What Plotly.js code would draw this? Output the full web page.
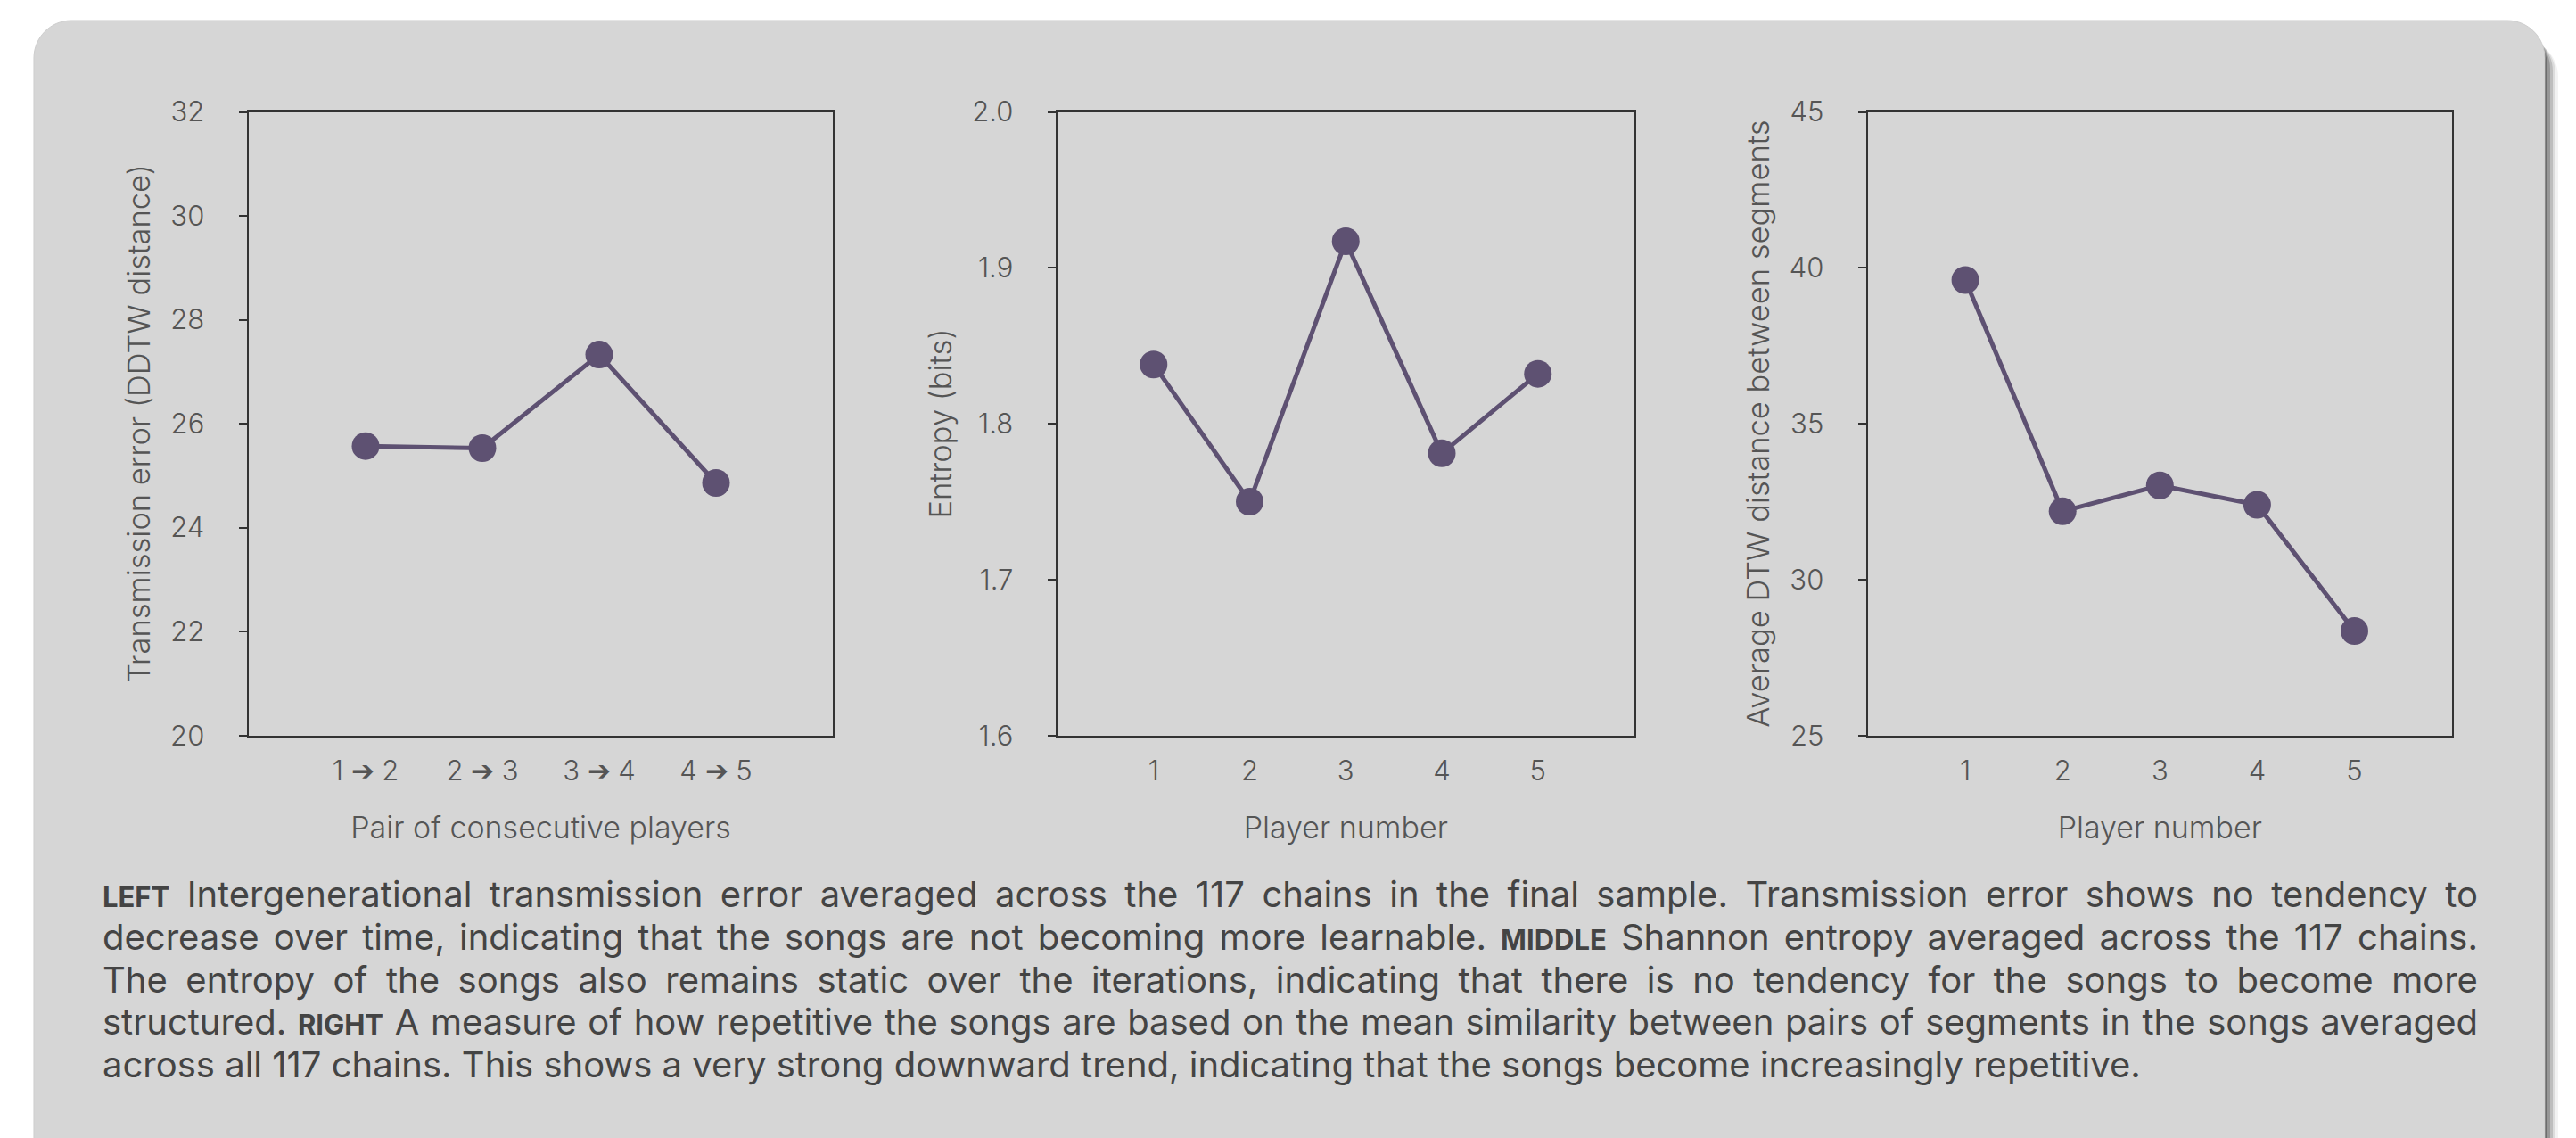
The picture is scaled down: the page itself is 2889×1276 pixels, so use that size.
<!DOCTYPE html>
<html>
<head>
<meta charset="utf-8">
<script src="https://cdn.plot.ly/plotly-3.0.1.min.js"></script>
<style>
html,body{margin:0;padding:0;background:#ffffff;}
#chart{width:2889px;height:1276px;}
</style>
</head>
<body>
<div id="chart"></div>
<script>
// ---- data ----
const pairLabels = ['1 ➔ 2', '2 ➔ 3', '3 ➔ 4', '4 ➔ 5'];
const transmissionError = [25.57, 25.53, 27.33, 24.86];

const players = [1, 2, 3, 4, 5];
const entropyBits = [1.838, 1.750, 1.917, 1.781, 1.832];
const dtwDistance = [39.61, 32.19, 33.02, 32.40, 28.35];

const yTitles = ['Transmission error (DDTW distance)', 'Entropy (bits)', 'Average DTW distance between segments'];
const xTitles = ['Pair of consecutive players', 'Player number', 'Player number'];

const captionLines = [
  '<b><span style="font-size:31px">LEFT</span></b> Intergenerational transmission error averaged across the 117 chains in the final sample. Transmission error shows no tendency to',
  'decrease over time, indicating that the songs are not becoming more learnable. <b><span style="font-size:31px">MIDDLE</span></b> Shannon entropy averaged across the 117 chains.',
  'The entropy of the songs also remains static over the iterations, indicating that there is no tendency for the songs to become more',
  'structured. <b><span style="font-size:31px">RIGHT</span></b> A measure of how repetitive the songs are based on the mean similarity between pairs of segments in the songs averaged',
  'across all 117 chains. This shows a very strong downward trend, indicating that the songs become increasingly repetitive.'
];

// ---- style ----
const W = 2889, H = 1276;
const FONT = 'Inter, "Liberation Sans", Arial, sans-serif';
const purple = '#5e5172';
const frame = '#333333';
const grey = '#555555';

function rr(x0, y0, x1, y1, r) {
  const X = v => (v / W).toFixed(6), Y = v => (1 - v / H).toFixed(6);
  const c = 0.5523 * r;
  return `M${X(x0 + r)},${Y(y0)} L${X(x1 - r)},${Y(y0)} ` +
    `C${X(x1 - r + c)},${Y(y0)} ${X(x1)},${Y(y0 + r - c)} ${X(x1)},${Y(y0 + r)} ` +
    `L${X(x1)},${Y(y1 - r)} ` +
    `C${X(x1)},${Y(y1 - r + c)} ${X(x1 - r + c)},${Y(y1)} ${X(x1 - r)},${Y(y1)} ` +
    `L${X(x0 + r)},${Y(y1)} ` +
    `C${X(x0 + r - c)},${Y(y1)} ${X(x0)},${Y(y1 - r + c)} ${X(x0)},${Y(y1 - r)} ` +
    `L${X(x0)},${Y(y0 + r)} ` +
    `C${X(x0)},${Y(y0 + r - c)} ${X(x0 + r - c)},${Y(y0)} ${X(x0 + r)},${Y(y0)} Z`;
}

const shapes = [];
const shadowSteps = [[17, 'rgba(0,0,0,0.05)'], [14, 'rgba(0,0,0,0.09)'], [11, 'rgba(0,0,0,0.14)'], [8, 'rgba(0,0,0,0.2)'], [5, 'rgba(0,0,0,0.28)'], [3, 'rgba(0,0,0,0.3)']];
shadowSteps.forEach(([o, col]) => {
  shapes.push({type: 'path', xref: 'paper', yref: 'paper', layer: 'below',
    path: rr(38 + o - 2, 23 + o + 4, 2854 + o - 2, 1320 + o, 42), fillcolor: col, line: {width: 0}});
});
shapes.push({type: 'path', xref: 'paper', yref: 'paper', layer: 'below',
  path: rr(38, 23, 2854, 1320, 42), fillcolor: '#d6d6d6', line: {color: '#cdcdcd', width: 1}});

const yDom = [1 - 824.7 / H, 1 - 125.5 / H];
const xDoms = [[279 / W, 934 / W], [1186 / W, 1832.5 / W], [2095 / W, 2749.6 / W]];

function xAxis(i, extra) {
  return Object.assign({
    domain: xDoms[i], anchor: i === 0 ? 'y' : 'y' + (i + 1),
    showline: true, mirror: true, linecolor: frame, linewidth: 2.5,
    ticks: '', showgrid: false, zeroline: false,
    tickfont: {family: FONT, size: 31, color: grey, weight: 300},
    ticklabelstandoff: 11,
    title: {text: xTitles[i], font: {family: FONT, size: 34, color: grey, weight: 300}, standoff: 35}
  }, extra);
}
function yAxis(i, extra) {
  return Object.assign({
    domain: yDom, anchor: i === 0 ? 'x' : 'x' + (i + 1),
    showline: true, mirror: true, linecolor: frame, linewidth: 2.5,
    ticks: 'outside', ticklen: 9, tickwidth: 2, tickcolor: frame,
    showgrid: false, zeroline: false,
    tickfont: {family: FONT, size: 31, color: grey, weight: 300},
    ticklabelstandoff: 32,
    title: {text: yTitles[i], font: {family: FONT, size: 34.5, color: grey, weight: 300}, standoff: 12}
  }, extra);
}

const traceStyle = {mode: 'lines+markers', line: {color: purple, width: 5}, marker: {color: purple, size: 31}, showlegend: false, hoverinfo: 'skip'};

const data = [
  Object.assign({x: pairLabels, y: transmissionError, xaxis: 'x', yaxis: 'y'}, traceStyle),
  Object.assign({x: players, y: entropyBits, xaxis: 'x2', yaxis: 'y2'}, traceStyle),
  Object.assign({x: players, y: dtwDistance, xaxis: 'x3', yaxis: 'y3'}, traceStyle)
];

const lineCenters = [1002, 1050, 1098, 1145, 1193];
const annotations = captionLines.map((t, k) => ({
  text: t, xref: 'paper', yref: 'paper', x: 113 / W, y: 1 - lineCenters[k] / H,
  xanchor: 'left', yanchor: 'middle', showarrow: false, align: 'left',
  font: {family: FONT, size: 40, color: '#444444'}
}));

const layout = {
  width: W, height: H,
  margin: {l: 0, r: 0, t: 0, b: 0},
  paper_bgcolor: '#ffffff', plot_bgcolor: 'rgba(0,0,0,0)',
  shapes: shapes,
  annotations: annotations,
  xaxis: xAxis(0, {type: 'category', range: [-1, 4]}),
  xaxis2: xAxis(1, {range: [0, 6], tickvals: players}),
  xaxis3: xAxis(2, {range: [0, 6], tickvals: players}),
  yaxis: yAxis(0, {range: [20, 32], dtick: 2}),
  yaxis2: yAxis(1, {range: [1.6, 2.0], dtick: 0.1, tickformat: '.1f'}),
  yaxis3: yAxis(2, {range: [25, 45], dtick: 5})
};

Plotly.newPlot('chart', data, layout, {staticPlot: true, displayModeBar: false}).then(() => {
  // justify the first four caption lines to the right edge of the text block
  const rightEdge = 2777;
  const texts = document.querySelectorAll('.annotation-text');
  texts.forEach((el, k) => {
    if (k >= 4) return;
    const bb = el.getBBox();
    const full = el.textContent;
    const spaces = (full.match(/ /g) || []).length;
    const target = rightEdge - 113;
    const extra = (target - bb.width) / spaces;
    el.style.wordSpacing = extra.toFixed(2) + 'px';
  });
});
</script>
</body>
</html>
